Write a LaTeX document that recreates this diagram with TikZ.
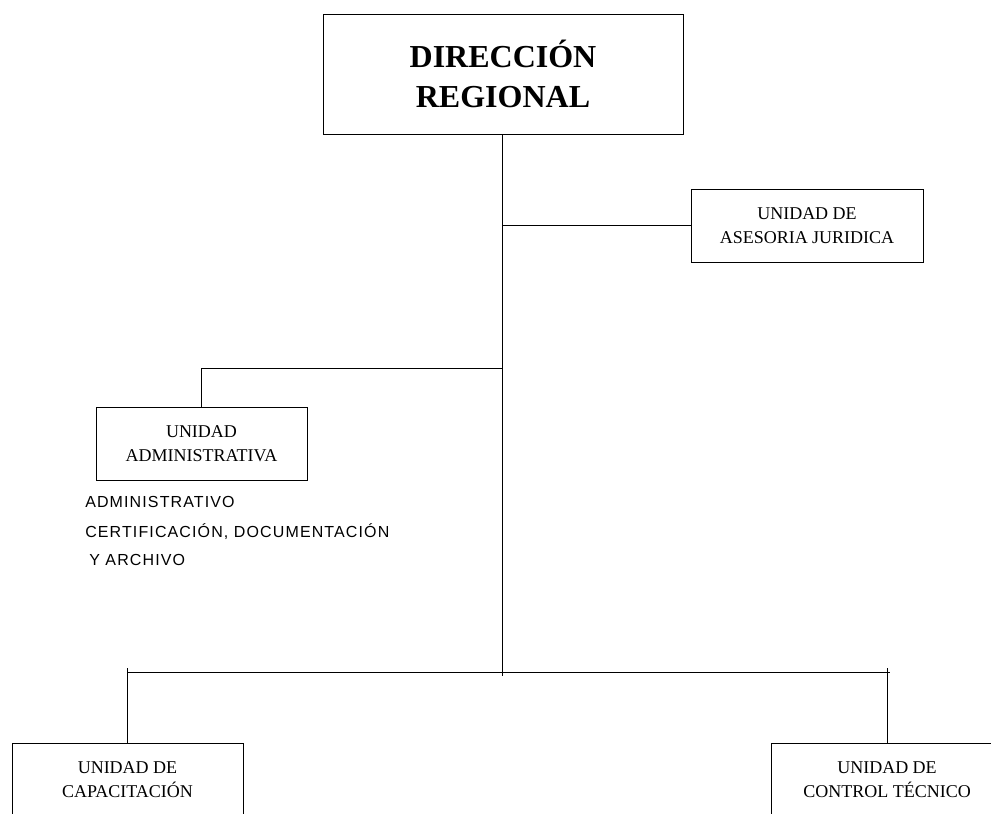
\documentclass[tikz,border=0pt]{standalone}
\usepackage{fontspec}
\setmainfont{Liberation Serif}
\newfontfamily\listfont[LetterSpace=7]{Liberation Sans}
\usetikzlibrary{positioning}

\begin{document}
\begin{tikzpicture}[
    x=0.75pt, y=-0.75pt,
    headbox/.style={draw, line width=0.7pt, align=center, inner sep=0pt, minimum width=270pt, minimum height=90pt, font=\fontsize{24}{30}\selectfont\bfseries},
    unitbox/.style={draw, line width=0.6pt, align=center, inner sep=0pt, minimum height=54.75pt, font=\fontsize{13.5}{18}\selectfont},
    listlabel/.style={anchor=base west, inner sep=0pt, font=\listfont\fontsize{12}{14}\selectfont},
    link/.style={line width=0.6pt}
]
\useasboundingbox (0,0) rectangle (991,813);

% Dirección regional (top)
\node[headbox] (dir) at (503,74) {DIRECCIÓN\\REGIONAL};

% Staff unit on the right
\node[unitbox, minimum width=174pt] (ase) at (807,225.5) {UNIDAD DE\\ASESORIA JURIDICA};

% Administrative unit and its sections
\node[unitbox, minimum width=158.25pt] (adm) at (201.5,443.5) {UNIDAD\\ADMINISTRATIVA};
\node[listlabel] (lst1) at (85,507) {ADMINISTRATIVO};
\node[listlabel] (lst2) at (85,537) {CERTIFICACIÓN, DOCUMENTACIÓN};
\node[listlabel] (lst3) at (89,565) {Y ARCHIVO};

% Lower units (cut by the page edge)
\node[unitbox, minimum width=173.25pt] (cap) at (127.5,779.5) {UNIDAD DE\\CAPACITACIÓN};
\node[unitbox, minimum width=174pt] (ctl) at (887,779.5) {UNIDAD DE\\CONTROL TÉCNICO};

% Trunk and branches
\coordinate (admjoin) at (502,368);
\coordinate (bar) at (502,672);
\draw[link] (dir.south -| admjoin) -- ([yshift=-3pt]bar);
\draw[link] (admjoin |- ase.west) -- (ase.west);
\draw[link] (admjoin) -| (adm.north);
\draw[link] ([yshift=3pt]cap.north |- bar) -- (cap.north);
\draw[link] ([yshift=3pt]ctl.north |- bar) -- (ctl.north);
\draw[link] (cap.north |- bar) -- ([xshift=2pt]ctl.north |- bar);

\end{tikzpicture}
\end{document}
